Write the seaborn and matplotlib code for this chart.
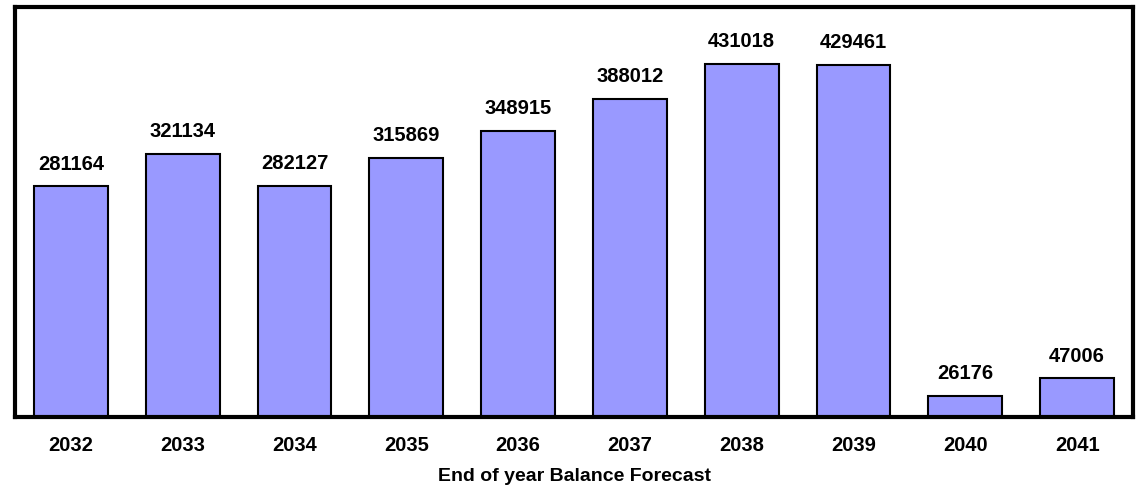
import matplotlib
matplotlib.use("Agg")
import matplotlib.pyplot as plt
import seaborn as sns
import pandas as pd

years = ["2032", "2033", "2034", "2035", "2036", "2037", "2038", "2039", "2040", "2041"]
balances = [281164, 321134, 282127, 315869, 348915, 388012, 431018, 429461, 26176, 47006]
x_title = "End of year Balance Forecast"

sns.set_theme(style="white")
plt.rcParams['font.family'] = ['Liberation Sans', 'DejaVu Sans']
plt.rcParams['text.color'] = 'black'
plt.rcParams['axes.labelcolor'] = 'black'
plt.rcParams['xtick.color'] = 'black'

df = pd.DataFrame({"year": years, "balance": balances})

fig = plt.figure(figsize=(11.47, 4.89), dpi=100)
ax = fig.add_axes([15/1147, 1 - 418/489, (1133 - 15)/1147, (418 - 8)/489])

sns.barplot(data=df, x="year", y="balance", ax=ax, color="#9999FF",
            saturation=1, width=0.66, edgecolor="black", linewidth=1.5)

ax.set_ylim(0, 500000)
ax.set_xlim(-0.5, len(years) - 0.5)
ax.set_yticks([])
ax.set_ylabel("")
ax.set_xlabel(x_title, fontsize=14, fontweight="bold", labelpad=9, color="black")
ax.tick_params(axis="x", length=0, pad=13, colors="black")
for lbl in ax.get_xticklabels():
    lbl.set_fontsize(14.5)
    lbl.set_fontweight("bold")
    lbl.set_color("black")

for c in ax.containers:
    ax.bar_label(c, labels=[str(v) for v in balances], padding=10,
                 fontsize=14.5, fontweight="bold", color="black")

for s in ax.spines.values():
    s.set_visible(True)
    s.set_color("black")
    s.set_linewidth(3.0)

fig.savefig("out.png", dpi=100)
